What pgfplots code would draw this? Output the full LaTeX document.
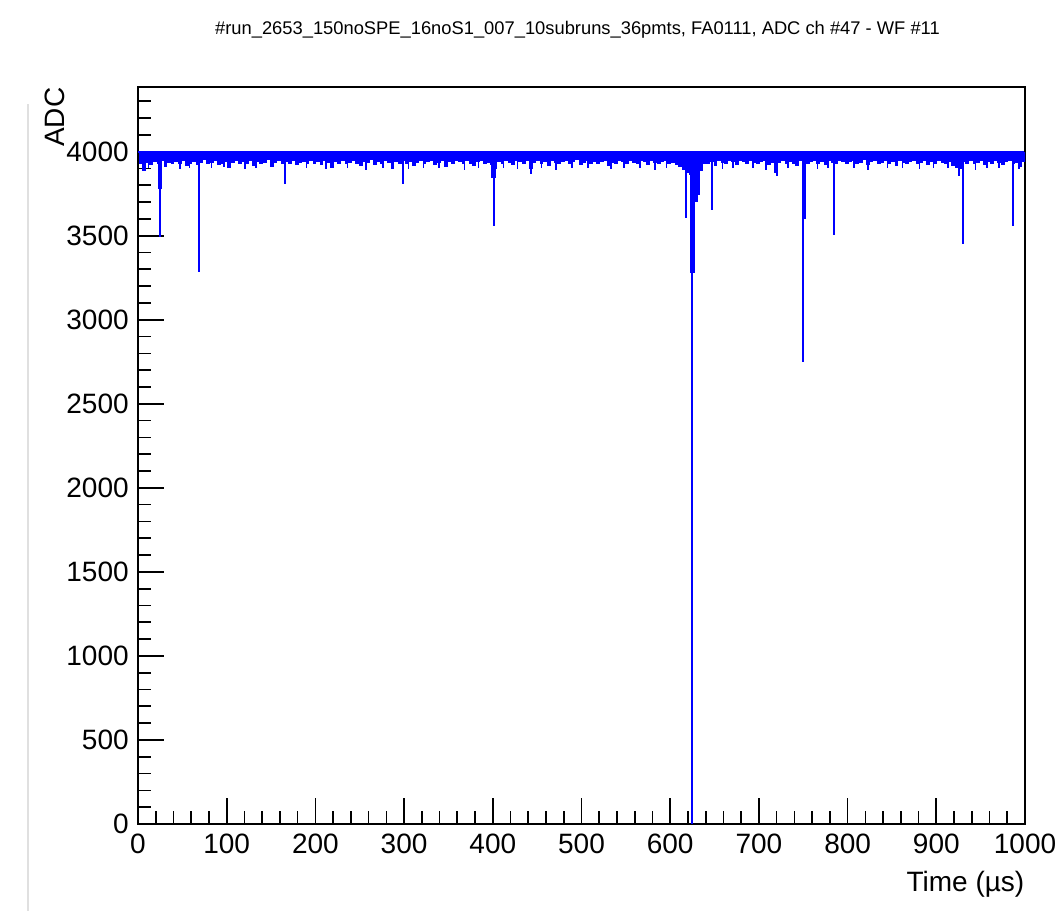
\documentclass[border=0pt]{standalone}
\usepackage{fontspec}
\setmainfont{Liberation Sans}
\usepackage{pgfplots}
\pgfplotsset{compat=1.18}
\begin{document}
\begin{tikzpicture}
\begin{axis}[
  scale only axis, width=266.1pt, height=221.1pt,
  xmin=0, xmax=1000, ymin=0, ymax=4385,
  xtick={0,100,...,1000}, ytick={0,500,...,4000},
  minor xtick={20,40,...,980}, minor ytick={100,200,...,4300},
  tick align=inside, tick pos=left,
  major tick length=7.8pt, minor tick length=4pt,
  every tick/.style={black, line width=0.5pt},
  axis line style={line width=0.6pt},
  /pgf/number format/assume math mode=true,
  /pgf/number format/1000 sep={},
  ticklabel style={font=\fontsize{8.4}{10}\selectfont},
  xticklabel style={anchor=north, inner sep=0pt, yshift=-2.7pt},
  yticklabel style={anchor=east, inner sep=0pt, xshift=-2.6pt},
]
\coordinate (bl) at (rel axis cs:0,0);
\coordinate (tr) at (rel axis cs:1,1);
\coordinate (br) at (rel axis cs:1,0);
\coordinate (tl) at (rel axis cs:0,1);
\coordinate (tc) at (rel axis cs:0.5,1);
% baseline waveform band
\addplot[blue, line width=0.6pt, const plot] coordinates {
(0,3996)(2,3935)(4,3996)(6,3890)(8,3996)(10,3940)(12,3996)(14,3925)(16,3996)(18,3945)(20,3996)(22,3935)(24,3996)(26,3950)(28,3996)(30,3915)(32,3996)(34,3940)(36,3996)(38,3930)
(40,3996)(42,3945)(44,3996)(46,3930)(48,3996)(50,3950)(52,3996)(54,3920)(56,3996)(58,3935)(60,3996)(62,3945)(64,3996)(66,3925)(68,3996)(70,3940)(72,3996)(74,3955)(76,3996)(78,3930)
(80,3996)(82,3940)(84,3996)(86,3950)(88,3996)(90,3925)(92,3996)(94,3935)(96,3996)(98,3945)(100,3996)(102,3910)(104,3996)(106,3940)(108,3996)(110,3950)(112,3996)(114,3930)(116,3996)(118,3945)
(120,3996)(122,3935)(124,3996)(126,3950)(128,3996)(130,3920)(132,3996)(134,3945)(136,3996)(138,3930)(140,3996)(142,3940)(144,3996)(146,3955)(148,3996)(150,3915)(152,3996)(154,3940)(156,3996)(158,3950)
(160,3996)(162,3930)(164,3996)(166,3945)(168,3996)(170,3935)(172,3996)(174,3950)(176,3996)(178,3925)(180,3996)(182,3940)(184,3996)(186,3945)(188,3996)(190,3930)(192,3996)(194,3950)(196,3996)(198,3935)
(200,3996)(202,3945)(204,3996)(206,3925)(208,3996)(210,3950)(212,3996)(214,3940)(216,3996)(218,3910)(220,3996)(222,3945)(224,3996)(226,3935)(228,3996)(230,3950)(232,3996)(234,3930)(236,3996)(238,3940)
(240,3996)(242,3950)(244,3996)(246,3935)(248,3996)(250,3920)(252,3996)(254,3945)(256,3996)(258,3940)(260,3996)(262,3955)(264,3996)(266,3925)(268,3996)(270,3945)(272,3996)(274,3930)(276,3996)(278,3950)
(280,3996)(282,3940)(284,3996)(286,3905)(288,3996)(290,3945)(292,3996)(294,3935)(296,3996)(298,3950)(300,3996)(302,3930)(304,3996)(306,3945)(308,3996)(310,3920)(312,3996)(314,3940)(316,3996)(318,3950)
(320,3996)(322,3935)(324,3996)(326,3945)(328,3996)(330,3950)(332,3996)(334,3925)(336,3996)(338,3940)(340,3996)(342,3950)(344,3996)(346,3915)(348,3996)(350,3945)(352,3996)(354,3935)(356,3996)(358,3950)
(360,3996)(362,3945)(364,3996)(366,3930)(368,3996)(370,3950)(372,3996)(374,3935)(376,3996)(378,3920)(380,3996)(382,3945)(384,3996)(386,3950)(388,3996)(390,3930)(392,3996)(394,3940)(396,3996)(398,3925)
(400,3996)(402,3900)(404,3996)(406,3945)(408,3996)(410,3935)(412,3996)(414,3950)(416,3996)(418,3940)(420,3996)(422,3925)(424,3996)(426,3950)(428,3996)(430,3945)(432,3996)(434,3930)(436,3996)(438,3950)
(440,3996)(442,3905)(444,3996)(446,3940)(448,3996)(450,3950)(452,3996)(454,3935)(456,3996)(458,3945)(460,3996)(462,3920)(464,3996)(466,3950)(468,3996)(470,3940)(472,3996)(474,3935)(476,3996)(478,3945)
(480,3996)(482,3950)(484,3996)(486,3930)(488,3996)(490,3945)(492,3996)(494,3955)(496,3996)(498,3925)(500,3996)(502,3940)(504,3996)(506,3950)(508,3996)(510,3935)(512,3996)(514,3945)(516,3996)(518,3930)
(520,3996)(522,3945)(524,3996)(526,3950)(528,3996)(530,3920)(532,3996)(534,3940)(536,3996)(538,3935)(540,3996)(542,3950)(544,3996)(546,3945)(548,3996)(550,3930)(552,3996)(554,3950)(556,3996)(558,3940)
(560,3996)(562,3935)(564,3996)(566,3950)(568,3996)(570,3945)(572,3996)(574,3925)(576,3996)(578,3950)(580,3996)(582,3940)(584,3996)(586,3930)(588,3996)(590,3945)(592,3996)(594,3950)(596,3996)(598,3935)
(600,3996)(602,3940)(604,3996)(606,3925)(608,3996)(610,3915)(612,3996)(614,3895)(616,3996)(618,3880)(620,3996)(622,3870)(624,3996)(626,3860)(628,3996)(630,3875)(632,3996)(634,3890)(636,3996)(638,3935)
(640,3996)(642,3930)(644,3996)(646,3945)(648,3996)(650,3920)(652,3996)(654,3950)(656,3996)(658,3940)(660,3996)(662,3935)(664,3996)(666,3950)(668,3996)(670,3945)(672,3996)(674,3925)(676,3996)(678,3950)
(680,3996)(682,3945)(684,3996)(686,3935)(688,3996)(690,3950)(692,3996)(694,3940)(696,3996)(698,3930)(700,3996)(702,3945)(704,3996)(706,3950)(708,3996)(710,3925)(712,3996)(714,3940)(716,3996)(718,3880)
(720,3996)(722,3940)(724,3996)(726,3950)(728,3996)(730,3935)(732,3996)(734,3945)(736,3996)(738,3930)(740,3996)(742,3920)(744,3996)(746,3950)(748,3996)(750,3910)(752,3996)(754,3930)(756,3996)(758,3945)
(760,3996)(762,3950)(764,3996)(766,3935)(768,3996)(770,3945)(772,3996)(774,3925)(776,3996)(778,3950)(780,3996)(782,3940)(784,3996)(786,3930)(788,3996)(790,3950)(792,3996)(794,3945)(796,3996)(798,3935)
(800,3996)(802,3945)(804,3996)(806,3950)(808,3996)(810,3930)(812,3996)(814,3940)(816,3996)(818,3955)(820,3996)(822,3925)(824,3996)(826,3945)(828,3996)(830,3950)(832,3996)(834,3935)(836,3996)(838,3940)
(840,3996)(842,3950)(844,3996)(846,3935)(848,3996)(850,3945)(852,3996)(854,3920)(856,3996)(858,3950)(860,3996)(862,3940)(864,3996)(866,3930)(868,3996)(870,3945)(872,3996)(874,3950)(876,3996)(878,3935)
(880,3996)(882,3940)(884,3996)(886,3950)(888,3996)(890,3925)(892,3996)(894,3945)(896,3996)(898,3935)(900,3996)(902,3950)(904,3996)(906,3940)(908,3996)(910,3930)(912,3996)(914,3945)(916,3996)(918,3920)
(920,3996)(922,3910)(924,3996)(926,3900)(928,3996)(930,3945)(932,3996)(934,3930)(936,3996)(938,3950)(940,3996)(942,3935)(944,3996)(946,3940)(948,3996)(950,3950)(952,3996)(954,3925)(956,3996)(958,3945)
(960,3996)(962,3935)(964,3996)(966,3950)(968,3996)(970,3940)(972,3996)(974,3925)(976,3996)(978,3945)(980,3996)(982,3950)(984,3996)(986,3930)(988,3996)(990,3940)(992,3996)(994,3915)(996,3996)(998,3945)(1000,3996)
};
% small noise dips
\addplot[blue, line width=0.5pt, unbounded coords=jump] coordinates {
(12,3950)(12,3900)(12,nan) (47,3950)(47,3895)(47,nan) (58,3950)(58,3905)(58,nan)
(83,3950)(83,3900)(83,nan) (97,3950)(97,3910)(97,nan) (121,3950)(121,3895)(121,nan)
(133,3950)(133,3905)(133,nan) (190,3950)(190,3900)(190,nan) (212,3950)(212,3895)(212,nan)
(236,3950)(236,3905)(236,nan) (257,3950)(257,3890)(257,nan) (276,3950)(276,3900)(276,nan)
(305,3950)(305,3895)(305,nan) (322,3950)(322,3905)(322,nan) (339,3950)(339,3900)(339,nan)
(368,3950)(368,3890)(368,nan) (384,3950)(384,3905)(384,nan) (412,3950)(412,3900)(412,nan)
(428,3950)(428,3895)(428,nan) (455,3950)(455,3905)(455,nan) (471,3950)(471,3890)(471,nan)
(489,3950)(489,3900)(489,nan) (507,3950)(507,3905)(507,nan) (533,3950)(533,3895)(533,nan)
(548,3950)(548,3900)(548,nan) (566,3950)(566,3905)(566,nan) (583,3950)(583,3890)(583,nan)
(596,3950)(596,3900)(596,nan) (659,3950)(659,3895)(659,nan) (671,3950)(671,3905)(671,nan)
(693,3950)(693,3900)(693,nan) (708,3950)(708,3890)(708,nan) (733,3950)(733,3905)(733,nan)
(766,3950)(766,3895)(766,nan) (778,3950)(778,3900)(778,nan) (807,3950)(807,3905)(807,nan)
(823,3950)(823,3890)(823,nan) (845,3950)(845,3900)(845,nan) (862,3950)(862,3905)(862,nan)
(881,3950)(881,3895)(881,nan) (897,3950)(897,3900)(897,nan) (913,3950)(913,3905)(913,nan)
(944,3950)(944,3890)(944,nan) (957,3950)(957,3900)(957,nan) (971,3950)(971,3905)(971,nan)
(993,3950)(993,3895)
};
% thin spikes
\addplot[blue, line width=0.55pt, unbounded coords=jump] coordinates {
(24.8,3950)(24.8,3495)(24.8,nan)
(68.4,3950)(68.4,3283)(68.4,nan)
(165.7,3950)(165.7,3810)(165.7,nan)
(298.8,3950)(298.8,3810)(298.8,nan)
(401,3950)(401,3560)(401,nan)
(442.7,3950)(442.7,3870)(442.7,nan)
(617.8,3950)(617.8,3606)(617.8,nan)
(624.1,3950)(624.1,0)(624.1,nan)
(632.5,3950)(632.5,3745)(632.5,nan)
(646.8,3950)(646.8,3655)(646.8,nan)
(720,3950)(720,3855)(720,nan)
(750,3950)(750,2750)(750,nan)
(784.7,3950)(784.7,3507)(784.7,nan)
(925.6,3950)(925.6,3853)(925.6,nan)
(930.5,3950)(930.5,3451)(930.5,nan)
(986.8,3950)(986.8,3560)
};
% thick parts of spikes
\addplot[blue, line width=1.4pt, unbounded coords=jump] coordinates {
(24.8,3950)(24.8,3780)(24.8,nan)
(401,3950)(401,3845)(401,nan)
(625.3,3950)(625.3,3280)(625.3,nan)
(628.2,3950)(628.2,3700)(628.2,nan)
(750.8,3950)(750.8,3600)
};
\end{axis}
\path ([xshift=-41.4pt,yshift=-26.1pt]bl) rectangle ([xshift=10.8pt,yshift=26.1pt]tr);
\draw[black!12, line width=0.4pt] ([xshift=-33pt,yshift=-26.1pt]bl) -- ([xshift=-33pt,yshift=-5pt]tl);
\node[anchor=base, inner sep=0pt, font=\fontsize{5.5}{6}\selectfont] at ([xshift=-1.2pt,yshift=15.6pt]tc) {\#run\_2653\_150noSPE\_16noS1\_007\_10subruns\_36pmts, FA0111, ADC ch \#47 - WF \#11};
\node[rotate=90, anchor=base east, inner sep=0pt, font=\fontsize{8.4}{10}\selectfont] at ([xshift=-21.9pt]tl) {ADC};
\node[anchor=base east, inner sep=0pt, font=\fontsize{8.4}{10}\selectfont] at ([yshift=-20.4pt]br) {Time (µs)};
\end{tikzpicture}
\end{document}
